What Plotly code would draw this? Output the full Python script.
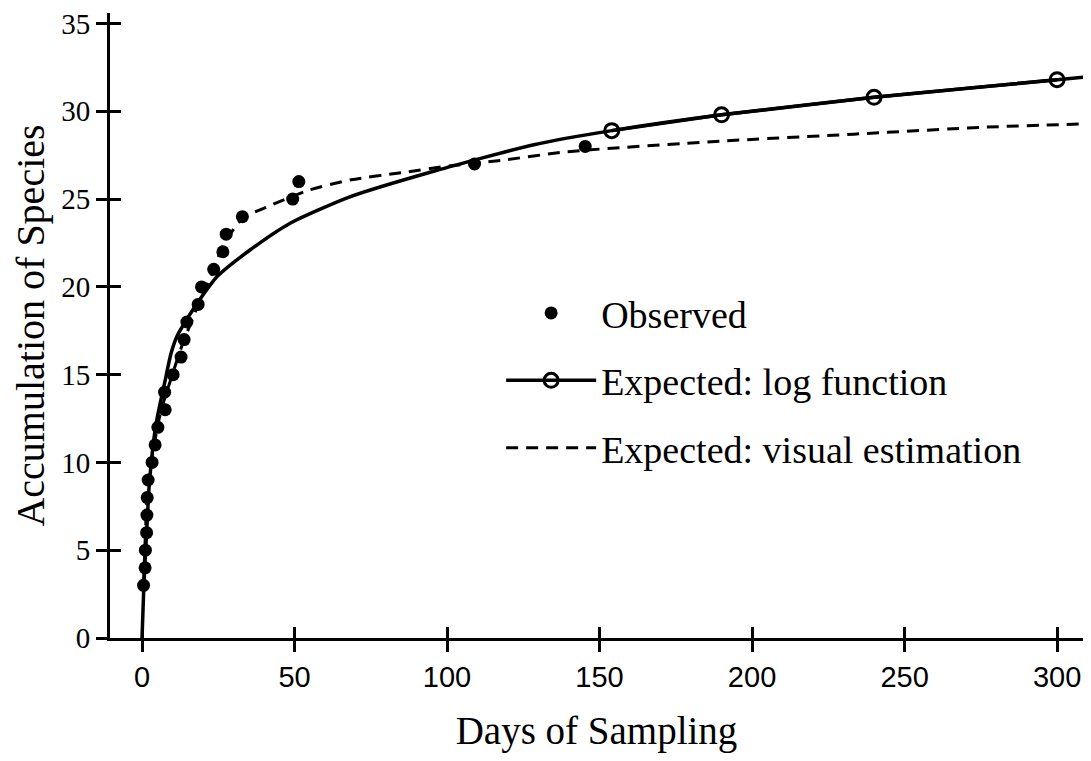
import plotly.graph_objects as go

# ---- data ----
obs_days = [0.5, 1.0, 1.1, 1.5, 1.6, 1.7, 2.0, 3.3, 4.3, 5.2, 7.6, 7.4, 10.2,
            12.8, 13.8, 14.7, 18.4, 19.5, 23.5, 26.5, 27.6, 32.9, 49.4, 51.4,
            109.0, 145.3]
obs_species = [3, 4, 5, 6, 7, 8, 9, 10, 11, 12, 13, 14, 15, 16, 17, 18, 19, 20,
               21, 22, 23, 24, 25, 26, 27, 28]

log_curve_days = [0, 0.6, 1.5, 2.4, 4.6, 7.5, 9.5, 11.5, 15.2, 19.4, 24.7, 35.4,
                  48.3, 67.7, 95.9, 128.5, 154, 190, 240, 300, 312]
log_curve_species = [0, 3, 6, 8.8, 12.2, 14.6, 16.2, 17.2, 18.3, 19.4, 20.6, 22.1,
                     23.6, 25.1, 26.6, 28.1, 28.9, 29.8, 30.8, 31.8, 32.0]

log_marker_days = [154, 190, 240, 300]
log_marker_species = [28.9, 29.8, 30.8, 31.8]

visual_days = [0.5, 1.7, 3.5, 6.0, 9.0, 13.0, 18.0, 23.0, 27.0, 33.0, 41.6, 54.5,
               68.6, 84.9, 101.2, 117.5, 139.5, 189.5, 233.4, 276.9, 312]
visual_species = [3, 8, 10.5, 12.8, 14.5, 16.6, 18.8, 20.8, 22.5, 23.9, 24.6, 25.5,
                  26.1, 26.5, 26.9, 27.2, 27.7, 28.3, 28.7, 29.1, 29.3]

x_ticks = [0, 50, 100, 150, 200, 250, 300]
y_ticks = [0, 5, 10, 15, 20, 25, 30, 35]

SERIF = "Liberation Serif, Times New Roman, serif"
SANS = "Liberation Sans, Arial, sans-serif"

fig = go.Figure()

# log function curve (line only)
fig.add_trace(go.Scatter(
    x=log_curve_days, y=log_curve_species, mode="lines",
    line=dict(color="black", width=3.5, shape="spline", smoothing=0.6),
    legendgroup="log", showlegend=False, hoverinfo="skip"))
# log function markers
fig.add_trace(go.Scatter(
    x=log_marker_days, y=log_marker_species, mode="lines+markers",
    name="Expected: log function",
    line=dict(color="black", width=3.5),
    marker=dict(symbol="circle-open", size=14, color="black", line=dict(width=3)),
    legendgroup="log", legendrank=2))
# visual estimation
fig.add_trace(go.Scatter(
    x=visual_days, y=visual_species, mode="lines",
    name="Expected: visual estimation",
    line=dict(color="black", width=3, dash="12px,8px", shape="spline", smoothing=0.6),
    legendgroup="vis", legendrank=3))
# observed
fig.add_trace(go.Scatter(
    x=obs_days, y=obs_species, mode="markers", name="Observed",
    marker=dict(symbol="circle", size=13, color="black"),
    legendgroup="obs", legendrank=1))

# helper trace for the overlay axes (inside tick halves)
fig.add_trace(go.Scatter(x=[], y=[], xaxis="x2", yaxis="y2",
                         showlegend=False, hoverinfo="skip"))

x_range = [-10.5, 308.5]
y_range = [0, 35.6]

# the page body has an 8px margin, so the figure is sized to fit the window
fig.update_layout(
    width=1075, height=745,
    margin=dict(l=102, r=0, t=0, b=115),
    plot_bgcolor="white", paper_bgcolor="white",
    font=dict(family=SERIF, color="black"),
    xaxis=dict(range=x_range, tickvals=x_ticks, showgrid=False, zeroline=False,
               showline=True, linecolor="black", linewidth=3,
               ticks="outside", ticklen=11, tickwidth=2.5, tickcolor="black",
               tickfont=dict(family=SANS, size=29), ticklabeloverflow="allow",
               title=dict(text="Days of Sampling", font=dict(family=SERIF, size=39),
                          standoff=30)),
    yaxis=dict(range=y_range, tickvals=y_ticks, showgrid=False, zeroline=False,
               showline=True, linecolor="black", linewidth=3,
               ticks="outside", ticklen=11, tickwidth=2.5, tickcolor="black",
               tickfont=dict(family=SERIF, size=29), ticklabeloverflow="allow",
               title=dict(text="Accumulation of Species", font=dict(family=SERIF, size=40),
                          standoff=12)),
    xaxis2=dict(range=x_range, tickvals=x_ticks, overlaying="x", anchor="y2",
                showgrid=False, zeroline=False, showline=False,
                ticks="inside", ticklen=11, tickwidth=2.5, tickcolor="black",
                showticklabels=False),
    yaxis2=dict(range=y_range, tickvals=y_ticks, overlaying="y", anchor="x2",
                side="left", showgrid=False, zeroline=False, showline=False,
                ticks="inside", ticklen=11, tickwidth=2.5, tickcolor="black",
                showticklabels=False),
    legend=dict(x=0.402, y=0.57, xanchor="left", yanchor="top",
                font=dict(family=SERIF, size=38), itemwidth=90,
                tracegroupgap=15, bgcolor="rgba(0,0,0,0)", traceorder="grouped"),
    showlegend=True,
)

fig.write_html("out.html")
